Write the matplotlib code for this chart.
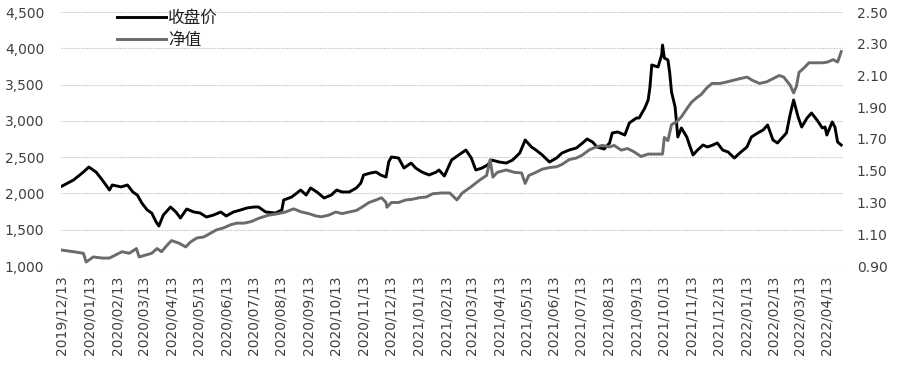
import matplotlib
matplotlib.use("Agg")
import matplotlib.pyplot as plt
import matplotlib.dates as mdates
from matplotlib.ticker import FuncFormatter, FixedLocator
import pandas as pd

plt.rcParams['font.family'] = ['DejaVu Sans', 'Noto Sans CJK SC']

close_dates = ["2019-12-13","2019-12-26","2020-01-06","2020-01-12","2020-01-20","2020-01-27","2020-02-04","2020-02-07",
"2020-02-17","2020-02-24","2020-03-01","2020-03-06","2020-03-11","2020-03-17","2020-03-22","2020-03-27","2020-03-30",
"2020-04-04","2020-04-12","2020-04-18","2020-04-23","2020-04-30","2020-05-08","2020-05-15","2020-05-22","2020-05-30",
"2020-06-07","2020-06-13","2020-06-21","2020-06-29","2020-07-06","2020-07-14","2020-07-19","2020-07-27","2020-08-07",
"2020-08-14","2020-08-16","2020-08-25","2020-09-04","2020-09-10","2020-09-15","2020-09-22","2020-09-30","2020-10-08",
"2020-10-14","2020-10-20","2020-10-28","2020-11-05","2020-11-10","2020-11-13","2020-11-21","2020-11-27","2020-12-02",
"2020-12-08","2020-12-11","2020-12-14","2020-12-22","2020-12-28","2021-01-05","2021-01-10","2021-01-17","2021-01-25",
"2021-02-02","2021-02-05","2021-02-11","2021-02-19","2021-02-27","2021-03-07","2021-03-13","2021-03-18","2021-03-25",
"2021-03-31","2021-04-05","2021-04-13","2021-04-21","2021-04-28","2021-05-06","2021-05-12","2021-05-19","2021-05-24",
"2021-05-31","2021-06-08","2021-06-16","2021-06-22","2021-06-30","2021-07-08","2021-07-15","2021-07-20","2021-07-26",
"2021-07-31","2021-08-08","2021-08-14","2021-08-17","2021-08-23","2021-08-31","2021-09-05","2021-09-13","2021-09-16",
"2021-09-19","2021-09-22","2021-09-26","2021-09-28","2021-09-30","2021-10-07","2021-10-11","2021-10-12","2021-10-14",
"2021-10-18","2021-10-20","2021-10-22","2021-10-26","2021-10-28","2021-10-29","2021-11-02","2021-11-08","2021-11-11",
"2021-11-15","2021-11-20","2021-11-26","2021-12-01","2021-12-07","2021-12-12","2021-12-18","2021-12-24","2021-12-31",
"2022-01-06","2022-01-14","2022-01-19","2022-01-26","2022-02-01","2022-02-06","2022-02-12","2022-02-17","2022-02-23",
"2022-02-27","2022-03-03","2022-03-07","2022-03-12","2022-03-16","2022-03-22","2022-03-27","2022-04-02","2022-04-08",
"2022-04-11","2022-04-13","2022-04-19","2022-04-22","2022-04-25","2022-04-29"]
close_values = [2100,2185,2295,2364,2295,2185,2047,2116,
2090,2116,2020,1978,1868,1772,1730,1606,1551,
1703,1813,1744,1661,1785,1744,1730,1675,1703,
1744,1689,1744,1772,1799,1813,1813,1744,1730,
1772,1909,1951,2047,1978,2075,2020,1937,1978,
2047,2020,2020,2075,2144,2254,2282,2295,2254,
2226,2433,2502,2488,2350,2419,2350,2295,2254,
2295,2323,2240,2460,2530,2598,2488,2323,2350,
2392,2460,2433,2419,2460,2557,2736,2640,2598,
2530,2433,2488,2557,2598,2626,2695,2750,2709,
2640,2612,2695,2833,2847,2805,2971,3040,3040,
3108,3170,3287,3467,3770,3742,3908,4045,3866,
3839,3660,3398,3191,2915,2778,2902,2778,2667,
2530,2598,2667,2640,2667,2695,2598,2571,2488,
2557,2640,2778,2833,2874,2943,2736,2695,2778,
2833,3081,3287,3053,2915,3040,3108,3012,2902,
2915,2805,2985,2915,2709,2667]

nav_dates = ["2019-12-13","2019-12-26","2020-01-06","2020-01-09","2020-01-17","2020-01-27","2020-02-04","2020-02-11",
"2020-02-18","2020-02-26","2020-03-05","2020-03-08","2020-03-16","2020-03-22","2020-03-28","2020-04-02","2020-04-08",
"2020-04-13","2020-04-21","2020-04-29","2020-05-04","2020-05-11","2020-05-19","2020-05-27","2020-06-02","2020-06-10",
"2020-06-18","2020-06-25","2020-07-03","2020-07-11","2020-07-19","2020-07-30","2020-08-10","2020-08-18","2020-08-27",
"2020-09-05","2020-09-13","2020-09-21","2020-09-27","2020-10-05","2020-10-13","2020-10-20","2020-10-28","2020-11-05",
"2020-11-11","2020-11-19","2020-11-27","2020-12-03","2020-12-08","2020-12-09","2020-12-14","2020-12-22","2020-12-30",
"2021-01-06","2021-01-14","2021-01-22","2021-01-29","2021-02-08","2021-02-17","2021-02-25","2021-03-03","2021-03-13",
"2021-03-22","2021-03-30","2021-04-03","2021-04-06","2021-04-11","2021-04-21","2021-04-30","2021-05-08","2021-05-12",
"2021-05-16","2021-05-24","2021-05-31","2021-06-08","2021-06-16","2021-06-22","2021-06-30","2021-07-08","2021-07-15",
"2021-07-22","2021-07-30","2021-08-06","2021-08-14","2021-08-19","2021-08-27","2021-09-03","2021-09-10","2021-09-18",
"2021-09-26","2021-10-12","2021-10-14","2021-10-18","2021-10-22","2021-10-28","2021-11-02","2021-11-08","2021-11-13",
"2021-11-19","2021-11-24","2021-11-30","2021-12-06","2021-12-15","2021-12-23","2021-12-30","2022-01-06","2022-01-14",
"2022-01-20","2022-01-28","2022-02-05","2022-02-12","2022-02-19","2022-02-24","2022-03-03","2022-03-07","2022-03-10",
"2022-03-13","2022-03-19","2022-03-24","2022-03-30","2022-04-08","2022-04-14","2022-04-20","2022-04-25","2022-04-29"]
nav_values = [1.00,0.99,0.98,0.925,0.957,0.95,0.95,0.97,
0.99,0.98,1.01,0.957,0.97,0.98,1.01,0.99,1.03,
1.06,1.045,1.02,1.05,1.076,1.083,1.108,1.127,1.14,
1.16,1.17,1.17,1.18,1.20,1.22,1.23,1.24,1.26,
1.24,1.23,1.215,1.21,1.22,1.24,1.23,1.24,1.25,
1.27,1.30,1.316,1.33,1.30,1.27,1.30,1.30,1.316,
1.32,1.33,1.335,1.355,1.36,1.36,1.316,1.36,1.40,
1.44,1.47,1.57,1.46,1.49,1.505,1.49,1.486,1.42,
1.47,1.49,1.51,1.52,1.525,1.54,1.57,1.58,1.60,
1.63,1.65,1.66,1.65,1.66,1.63,1.64,1.62,1.59,
1.605,1.605,1.71,1.69,1.79,1.81,1.84,1.89,1.93,
1.96,1.98,2.02,2.05,2.05,2.06,2.07,2.08,2.09,
2.07,2.05,2.06,2.08,2.10,2.09,2.04,1.99,2.03,
2.12,2.15,2.18,2.18,2.18,2.185,2.20,2.185,2.25]

left_ticks = [1000,1500,2000,2500,3000,3500,4000,4500]
right_ticks = [0.90,1.10,1.30,1.50,1.70,1.90,2.10,2.30,2.50]
x_tick_dates = pd.date_range("2019-12-13", "2022-04-13", freq=pd.DateOffset(months=1))
series_names = ["收盘价", "净值"]

text_color = "#404040"
fig = plt.figure(figsize=(8.99, 3.68), dpi=100)
ax = fig.add_axes([61/899, 102/368, (843-61)/899, (266-12)/368])
ax2 = ax.twinx()

cd = pd.to_datetime(close_dates)
nd = pd.to_datetime(nav_dates)
l1, = ax.plot(cd, close_values, color="#000000", lw=2.1, solid_joinstyle="round")
l2, = ax2.plot(nd, nav_values, color="#6b6b6b", lw=2.1, solid_joinstyle="round")

ax.set_xlim(pd.Timestamp("2019-12-12"), pd.Timestamp("2022-05-01"))
ax.set_ylim(1000, 4500)
ax2.set_ylim(0.90, 2.50)
ax.yaxis.set_major_locator(FixedLocator(left_ticks))
ax2.yaxis.set_major_locator(FixedLocator(right_ticks))
ax.yaxis.set_major_formatter(FuncFormatter(lambda v, p: f"{int(v):,}"))
ax2.yaxis.set_major_formatter(FuncFormatter(lambda v, p: f"{v:.2f}"))
ax.set_xticks(x_tick_dates)
ax.xaxis.set_major_formatter(mdates.DateFormatter("%Y/%m/%d"))
for lab in ax.get_xticklabels():
    lab.set_rotation(90)

for a in (ax, ax2):
    for s in a.spines.values():
        s.set_visible(False)
    a.tick_params(length=0, labelsize=10, colors=text_color)
ax.tick_params(axis='x', pad=7)
ax.tick_params(axis='y', pad=12)
ax2.tick_params(axis='y', pad=10)

ax.grid(axis='y', color="#c8c8c8", lw=0.8, linestyle=(0, (1.5, 1)))
ax.set_axisbelow(True)

leg = ax2.legend([l1, l2], series_names, loc="upper left", bbox_to_anchor=(0.072, 1.01),
                 frameon=False, handlelength=2.9, handletextpad=0.15, labelspacing=0.35,
                 borderpad=0, borderaxespad=0,
                 prop={"family": ["Noto Sans CJK SC", "DejaVu Sans"], "size": 12})
for t in leg.get_texts():
    t.set_color("#202020")

fig.savefig("out.png", dpi=100)
